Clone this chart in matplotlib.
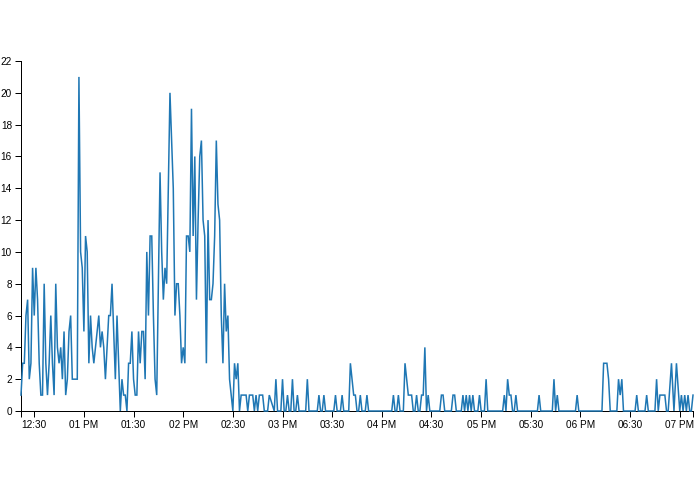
import matplotlib
matplotlib.use("Agg")
import matplotlib.pyplot as plt
import pandas as pd

plt.rcParams['font.family'] = ['Liberation Sans', 'DejaVu Sans']

# ---- data: counts per minute (minutes after 12:00) ----
dense_start_minute = 22
dense_values = [
    1, 3, 3, 6, 7, 2, 3, 9, 6, 9,
    7, 3, 1, 1, 8, 3, 1, 3, 6, 3,
    1, 8, 4, 3, 4, 2, 5, 1, 2, 5,
    6, 2, 2, 2, 2, 21, 10, 9, 5, 11,
    10, 3, 6, 4, 3, 4, 5, 6, 4, 5,
    4, 2, 4, 6, 6, 8, 5, 2, 6, 3,
    0, 2, 1, 1, 0, 3, 3, 5, 2, 1,
    1, 5, 3, 5, 5, 2, 10, 6, 11, 11,
    6, 2, 1, 8, 15, 10, 7, 9, 8, 14,
    20, 17, 14, 6, 8, 8, 6, 3, 4, 3,
    11, 11, 10, 19, 11, 16, 7, 12, 16, 17,
    12, 11, 3, 12, 7, 7, 8, 11, 17, 13,
    12, 6, 3, 8, 5, 6, 2, 1, 0, 3,
    2, 3,
]

sparse_minutes = [
    154, 155, 156, 157, 158, 159, 160, 161, 162, 163, 164, 165, 166, 167, 168, 169,
    171, 172, 175, 176, 177, 179, 180, 181, 182, 183, 184, 185, 186, 187, 188, 189, 190,
    194, 195, 196, 201, 202, 203, 204, 205, 206, 211, 212, 213, 215, 216, 217,
    220, 221, 222, 223, 224, 225, 226, 227, 228, 230, 231, 232,
    246, 247, 248, 249, 250, 251, 253, 254, 255, 256, 257, 258, 259, 260, 261, 262,
    263, 264, 265, 266, 267, 268, 269, 275, 276, 277, 278, 282, 283, 284, 285,
    288, 289, 290, 291, 292, 293, 294, 295, 296, 298, 299, 300, 302, 303, 304,
    313, 314, 315, 316, 317, 318, 319, 320, 321, 322, 334, 335, 336,
    343, 344, 345, 346, 347, 357, 358, 359, 373, 374, 375, 376, 377, 378,
    382, 383, 384, 385, 386, 393, 394, 395, 399, 400, 401,
    405, 406, 407, 408, 409, 410, 411, 412, 413, 415, 416.5, 418, 420,
    421, 422, 423, 424, 425, 426, 427, 428,
]
sparse_values = [
    0, 1, 1, 1, 1, 0, 1, 1, 1, 0, 1, 0, 1, 1, 1, 0,
    0, 1, 0, 2, 0, 0, 2, 0, 0, 1, 0, 0, 2, 0, 0, 1, 0,
    0, 2, 0, 0, 1, 0, 0, 1, 0, 0, 1, 0, 0, 1, 0,
    0, 3, 2, 1, 1, 0, 0, 1, 0, 0, 1, 0,
    0, 1, 0, 0, 1, 0, 0, 3, 2, 1, 1, 1, 0, 0, 1, 0,
    0, 1, 1, 4, 0, 1, 0, 0, 1, 1, 0, 0, 1, 1, 0,
    0, 1, 0, 1, 0, 1, 0, 1, 0, 0, 1, 0, 0, 2, 0,
    0, 1, 0, 2, 1, 1, 0, 0, 1, 0, 0, 1, 0,
    0, 2, 0, 1, 0, 0, 1, 0, 0, 3, 3, 3, 2, 0,
    0, 2, 1, 2, 0, 0, 1, 0, 0, 1, 0,
    0, 2, 0, 1, 1, 1, 1, 0, 0, 3, 0, 3, 0,
    1, 0, 1, 0, 1, 0, 0, 1,
]

y_ticks = list(range(0, 23, 2))
x_tick_minutes = list(range(30, 421, 30))
x_tick_labels = ["12:30", "01 PM", "01:30", "02 PM", "02:30", "03 PM", "03:30",
                 "04 PM", "04:30", "05 PM", "05:30", "06 PM", "06:30", "07 PM"]

# ---- build series ----
minutes = list(range(dense_start_minute, dense_start_minute + len(dense_values))) + sparse_minutes
values = dense_values + sparse_values
base = pd.Timestamp("2020-01-01 12:00")
times = base + pd.to_timedelta(minutes, unit="min")
tick_times = base + pd.to_timedelta(x_tick_minutes, unit="min")

W, H = 695, 494
fig = plt.figure(figsize=(W / 100, H / 100), dpi=100)
fig.patch.set_facecolor("white")
ax = fig.add_axes([21 / W, 83 / H, 672 / W, 350 / H])

ax.plot(times, values, color="#1f77b4", lw=1.1, solid_joinstyle="miter",
        clip_on=False, zorder=3)

ax.set_xlim(times[0], times[-1])
ax.set_ylim(0, 22)
ax.set_yticks(y_ticks)
ax.set_yticklabels([str(v) for v in y_ticks])
ax.set_xticks(tick_times)
ax.set_xticklabels(x_tick_labels)
ax.set_xticks([times[0], times[-1]], minor=True)

for s in ("top", "right"):
    ax.spines[s].set_visible(False)
for s in ("left", "bottom"):
    ax.spines[s].set_linewidth(0.72)
    ax.spines[s].set_color("black")

ax.tick_params(axis="both", which="both", length=4.3, width=0.72, color="black",
               labelsize=7.2, labelcolor="black", pad=2.2)
ax.tick_params(axis="x", which="minor", labelbottom=False)
ax.set_facecolor("white")

fig.savefig("out.png", dpi=100, facecolor="white")
